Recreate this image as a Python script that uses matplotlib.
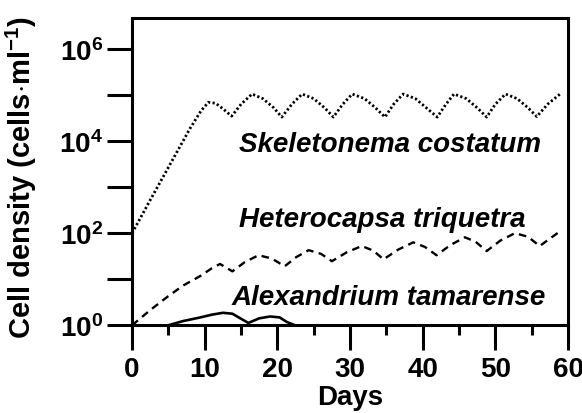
import matplotlib
matplotlib.use("Agg")
import matplotlib.pyplot as plt
from matplotlib.ticker import FixedLocator, FuncFormatter, MultipleLocator
import numpy as np

plt.rcParams["font.family"] = ["Liberation Sans", "DejaVu Sans"]
plt.rcParams["font.weight"] = "bold"
plt.rcParams["mathtext.fontset"] = "custom"
plt.rcParams["mathtext.rm"] = "Liberation Sans:bold"
plt.rcParams["mathtext.bf"] = "Liberation Sans:bold"
plt.rcParams["mathtext.it"] = "Liberation Sans:bold:italic"

# Skeletonema costatum (log10 cells/ml)
skel_days = [0, 2.5, 5, 8, 9.5, 10.5, 11.5, 12.5, 13.7, 15, 16.5, 18, 19.5, 20.6,
             22, 23.4, 25, 26.5, 27.7, 29, 30.3, 32, 33.5, 34.8, 36, 37.3, 39,
             40.5, 42, 43.2, 44.3, 46, 47.5, 48.8, 50, 51.4, 53, 54.5, 55.7,
             57.2, 58.9]
skel_log = [2.0, 2.72, 3.43, 4.28, 4.66, 4.84, 4.82, 4.70, 4.54, 4.80, 5.02,
            4.92, 4.72, 4.52, 4.80, 5.02, 4.92, 4.72, 4.52, 4.80, 5.02, 4.92,
            4.72, 4.52, 4.80, 5.02, 4.92, 4.72, 4.52, 4.80, 5.02, 4.92, 4.72,
            4.52, 4.80, 5.02, 4.92, 4.72, 4.53, 4.80, 5.02]

# Heterocapsa triquetra
het_days = [0, 2.5, 4.8, 7, 9.4, 11, 12.1, 13.8, 15.5, 17.4, 19.2, 21, 22.6,
            24.3, 26, 27.5, 29.5, 31.6, 33.2, 34.6, 36.6, 38.7, 40.3, 41.9,
            43.8, 45.8, 47.3, 48.8, 50.7, 52.7, 54.5, 56.1, 58.9]
het_log = [0.0, 0.33, 0.61, 0.86, 1.07, 1.24, 1.33, 1.17, 1.37, 1.52, 1.45,
           1.28, 1.48, 1.63, 1.55, 1.39, 1.58, 1.72, 1.62, 1.43, 1.64, 1.80,
           1.70, 1.52, 1.74, 1.91, 1.81, 1.61, 1.84, 2.00, 1.92, 1.72, 2.04]

# Alexandrium tamarense
alex_days = [5, 7, 9.4, 11, 12.5, 13.8, 15, 16, 17.5, 19, 20.3, 21.3, 22.4]
alex_log = [0.0, 0.09, 0.17, 0.23, 0.27, 0.25, 0.14, 0.05, 0.15, 0.19, 0.17,
            0.07, 0.0]

day_ticks = [0, 10, 20, 30, 40, 50, 60]
decades = [0, 1, 2, 3, 4, 5, 6]

fig = plt.figure(figsize=(5.82, 4.14), dpi=100)
ax = fig.add_axes([0.227, 0.212, 0.749, 0.742])

ax.plot(skel_days, 10 ** np.array(skel_log), color="black", lw=2.0,
        linestyle=(0, (0.8, 0.85)), dash_capstyle="butt")
ax.plot(het_days, 10 ** np.array(het_log), color="black", lw=1.7,
        linestyle=(0, (3.2, 2.3)), dash_capstyle="butt")
ax.plot(alex_days, 10 ** np.array(alex_log), color="black", lw=1.9,
        solid_capstyle="round")

ax.set_yscale("log")
ax.set_xlim(0, 60)
ax.set_ylim(1, 10 ** 6.67)

ax.xaxis.set_major_locator(FixedLocator(day_ticks))
ax.xaxis.set_minor_locator(MultipleLocator(5))
ax.yaxis.set_major_locator(FixedLocator([10.0 ** d for d in decades]))
ax.yaxis.set_minor_locator(FixedLocator([]))


def decade_label(v, pos):
    e = int(round(np.log10(v)))
    if e % 2:
        return ""
    return r"$\mathbf{10^{%d}}$" % e


ax.yaxis.set_major_formatter(FuncFormatter(decade_label))

for side in ax.spines.values():
    side.set_linewidth(2.2)
ax.tick_params(axis="both", which="major", direction="out", width=2.2,
               labelsize=20)
ax.tick_params(axis="y", which="major", length=18, pad=3)
ax.tick_params(axis="x", which="major", length=18, pad=4)
ax.tick_params(axis="x", which="minor", direction="out", length=7, width=2.2)

ax.set_xlabel("Days", fontsize=20, fontweight="bold")
ax.set_ylabel(r"Cell density (cells$\cdot$ml$^{-1}$)", fontsize=21,
              fontweight="bold")
ax.xaxis.set_label_coords(0.5, -0.19)
ax.yaxis.set_label_coords(-0.213, 0.485)

ax.text(0.592, 0.567, "Skeletonema costatum", transform=ax.transAxes,
        fontsize=20, fontstyle="italic", fontweight="bold",
        ha="center", va="baseline")
ax.text(0.573, 0.322, "Heterocapsa triquetra", transform=ax.transAxes,
        fontsize=20, fontstyle="italic", fontweight="bold",
        ha="center", va="baseline")
ax.text(0.588, 0.068, "Alexandrium tamarense", transform=ax.transAxes,
        fontsize=20, fontstyle="italic", fontweight="bold",
        ha="center", va="baseline")

fig.savefig("out.png", dpi=100)
